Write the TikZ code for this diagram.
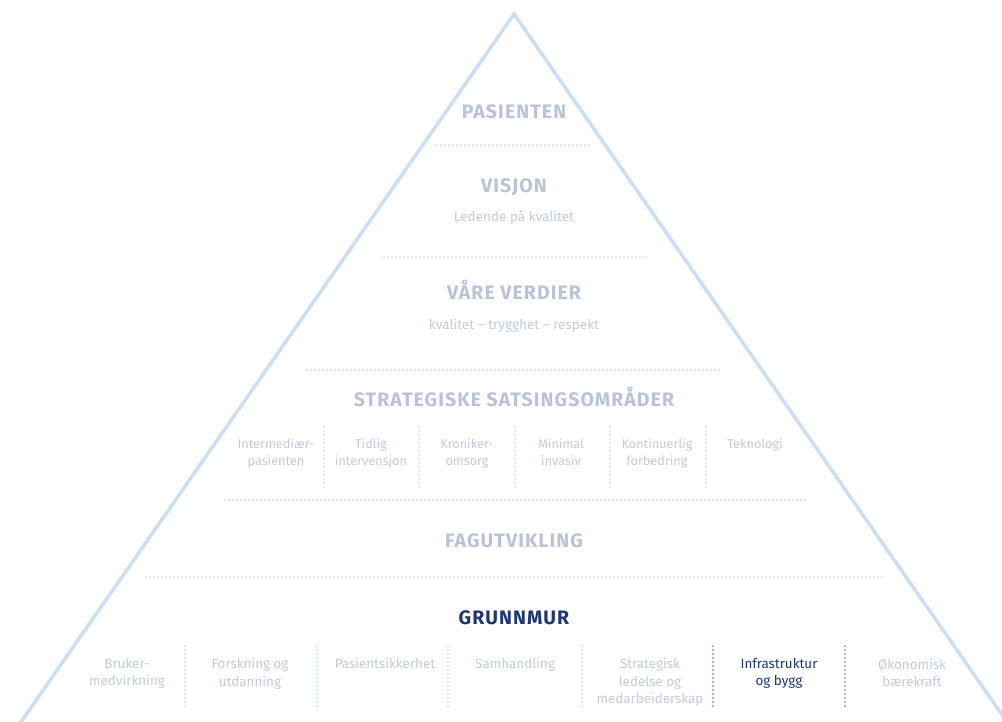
\documentclass[tikz,border=0pt]{standalone}
\usepackage{fontspec}
\setmainfont{Fira Sans}
\newfontfamily\headfont{Fira Sans}[LetterSpace=5.5]
\definecolor{headc}{HTML}{BAC2D8}
\definecolor{subc}{HTML}{C3CADD}
\definecolor{tric}{HTML}{CBDEF2}
\definecolor{dotc}{HTML}{C3DAF0}
\definecolor{darkc}{HTML}{1E3770}
\definecolor{darkdotc}{HTML}{5A96D6}
\tikzset{
  heading/.style={font=\headfont\fontsize{19.5}{22}\selectfont\bfseries, text=headc, inner sep=0pt, anchor=base},
  subline/.style={font=\fontsize{13.5}{16}\selectfont, text=subc, inner sep=0pt, anchor=base},
  item/.style={font=\fontsize{12.7}{17}\selectfont, text=subc, inner sep=0pt, anchor=north, align=center},
  bitem/.style={font=\fontsize{13.4}{17.5}\selectfont, text=subc, inner sep=0pt, anchor=north, align=center},
  dotline/.style={draw=dotc, line width=2pt, line cap=round, dash pattern=on 0pt off 4pt},
  darkdot/.style={draw=darkdotc, line width=2pt, line cap=round, dash pattern=on 0pt off 4pt},
  tri/.style={draw=tric, line width=3.5pt, line join=miter}
}
\begin{document}
\begin{tikzpicture}[x=1pt,y=-1pt]
\useasboundingbox (0,0) rectangle (1002,721);
% triangle
\coordinate (apex) at (514,14);
\coordinate (bl) at (14,732);
\coordinate (br) at (1014,732);
\draw[tri] (bl) -- (apex) -- (br);
% levels
\node[heading] (pas) at (514,118) {PASIENTEN};
\coordinate (d1a) at (437,145); \coordinate (d1b) at (592,145);
\draw[dotline] (d1a) -- (d1b);
\node[heading] (vis) at (514,192) {VISJON};
\node[subline] (visT) at (514,221) {Ledende på kvalitet};
\coordinate (d2a) at (384,257); \coordinate (d2b) at (645,257);
\draw[dotline] (d2a) -- (d2b);
\node[heading] (ver) at (514,299) {VÅRE VERDIER};
\node[subline] (verT) at (514,329) {kvalitet – trygghet – respekt};
\coordinate (d3a) at (307,370); \coordinate (d3b) at (722,370);
\draw[dotline] (d3a) -- (d3b);
\node[heading] (str) at (514,406) {STRATEGISKE SATSINGSOMRÅDER};
% strategic items
\node[item] (s1) at (276,438) {Intermediær-\\pasienten};
\node[item] (s2) at (371,438) {Tidlig\\intervensjon};
\node[item] (s3) at (467,438) {Kroniker-\\omsorg};
\node[item] (s4) at (561,438) {Minimal\\invasiv};
\node[item] (s5) at (657,438) {Kontinuerlig\\forbedring};
\node[item] (s6) at (755,438) {Teknologi};
\foreach \x [count=\i] in {324,419,515,610,706}{
  \coordinate (sv\i a) at (\x,427); \coordinate (sv\i b) at (\x,489);
  \draw[dotline] (sv\i a) -- (sv\i b);
}
\coordinate (d4a) at (225,500); \coordinate (d4b) at (805,500);
\draw[dotline] (d4a) -- (d4b);
\node[heading] (fag) at (514,547) {FAGUTVIKLING};
\coordinate (d5a) at (146,577); \coordinate (d5b) at (884,577);
\draw[dotline] (d5a) -- (d5b);
\node[heading, text=darkc] (grm) at (514,624) {GRUNNMUR};
% bottom items
\node[bitem] (b1) at (127,658) {Bruker-\\medvirkning};
\node[bitem] (b2) at (250,658) {Forskning og\\utdanning};
\node[bitem] (b3) at (385,658) {Pasientsikkerhet};
\node[bitem] (b4) at (515,658) {Samhandling};
\node[bitem] (b5) at (650,658) {Strategisk\\ledelse og\\medarbeiderskap};
\node[bitem, text=darkc] (b6) at (779,658) {Infrastruktur\\og bygg};
\node[bitem] (b7) at (912,658) {Økonomisk\\bærekraft};
\foreach \x [count=\i] in {185,317,448,582}{
  \coordinate (bv\i a) at (\x,646); \coordinate (bv\i b) at (\x,708);
  \draw[dotline] (bv\i a) -- (bv\i b);
}
\coordinate (bv5a) at (713,646); \coordinate (bv5b) at (713,708);
\draw[darkdot] (bv5a) -- (bv5b);
\coordinate (bv6a) at (845,646); \coordinate (bv6b) at (845,708);
\draw[darkdot] (bv6a) -- (bv6b);
\end{tikzpicture}
\end{document}
